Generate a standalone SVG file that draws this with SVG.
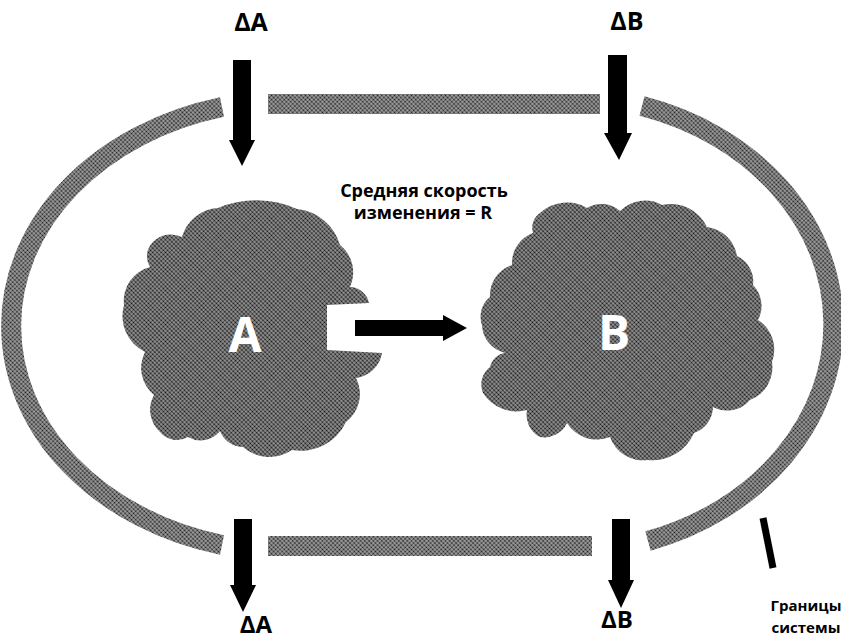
<svg xmlns="http://www.w3.org/2000/svg" width="841" height="639" viewBox="0 0 841 639">
<defs>
<pattern id="ht" width="3" height="3" patternUnits="userSpaceOnUse" patternTransform="rotate(45)"><rect width="3" height="3" fill="#9a9a9a"/><circle cx="1.5" cy="1.5" r="1.1" fill="#111"/></pattern>
<pattern id="hb" width="3" height="3" patternUnits="userSpaceOnUse" patternTransform="rotate(45)"><rect width="3" height="3" fill="#a4a4a4"/><circle cx="1.5" cy="1.5" r="1.05" fill="#1a1a1a"/></pattern>
</defs>
<style>
.blob{fill:url(#ht)}
.band{fill:none;stroke:url(#hb);stroke-width:20}
.bandr{fill:url(#hb)}
.arr{fill:#000}
.t{font-family:"Open Sans","Liberation Sans",sans-serif;font-weight:700;fill:#000;text-anchor:middle}
.big{font-family:"Open Sans","Liberation Sans",sans-serif;font-weight:700;fill:#fff;text-anchor:middle;font-size:48px}
</style>
<rect width="841" height="639" fill="#fff"/>
<g id="boundary">
<path class="band" d="M222,107 A280,226 0 0 0 222,545"/>
<path class="band" d="M642,106 A269,228 0 0 1 648,541"/>
<rect class="bandr" x="268" y="94" width="332" height="20"/>
<rect class="bandr" x="268" y="536" width="324" height="20"/>
<path d="M763,518 L773,568" stroke="#000" stroke-width="7" fill="none"/>
</g>
<g id="nodeA">
<path class="blob" d="M218,208 A100 100 0 0 1 297,209 A50 50 0 0 1 340,245 A35 35 0 0 1 350,287 A20 20 0 0 1 369,303 L327,305 L327,350 L382,353 A30 30 0 0 1 356,378 A35 35 0 0 1 346,422 A50 50 0 0 1 292,450 A40 40 0 0 1 243,447 A25 25 0 0 1 220,431 A25 25 0 0 1 188,437 A22 22 0 0 1 160,432 A30 30 0 0 1 154,395 A35 35 0 0 1 145,352 A40 40 0 0 1 124,305 A35 35 0 0 1 150,267 A20 20 0 0 1 153,242 A25 25 0 0 1 182,237 A40 40 0 0 1 218,208 Z"/>
<text class="big" x="245" y="352">A</text>
</g>
<g id="nodeB">
<path class="blob" d="M540,213 A40 40 0 0 1 587,208 A28 28 0 0 1 620,211 A35 35 0 0 1 662,205 A40 40 0 0 1 707,227 A35 35 0 0 1 737,256 A28 28 0 0 1 753,285 A30 30 0 0 1 758,320 A35 35 0 0 1 772,362 A35 35 0 0 1 750,400 A30 30 0 0 1 713,407 A28 28 0 0 1 694,433 A45 45 0 0 1 648,460 A35 35 0 0 1 610,437 A35 35 0 0 1 567,423 A25 25 0 0 1 540,437 A25 25 0 0 1 527,410 A40 40 0 0 1 483,393 A22 22 0 0 1 490,367 A18 18 0 0 1 505,353 A30 30 0 0 1 482,325 A25 25 0 0 1 490,297 A32 32 0 0 1 512,265 A32 32 0 0 1 533,233 A18 18 0 0 1 540,213 Z"/>
<text class="big" x="614" y="350">B</text>
</g>
<g id="connectors">
<path class="arr" d="M233,60 H251 V140 H255 L242,166 L229,140 H233 Z"/>
<path class="arr" d="M608,55 H627 V133 H632 L619,160 L604,133 H608 Z"/>
<path class="arr" d="M234,519 H252 V585 H256 L243,612 L230,585 H234 Z"/>
<path class="arr" d="M612,519 H630 V580 H634 L621,608 L608,580 H612 Z"/>
<path class="arr" d="M355,320 H443 V315 L467,328 L443,341 V336 H355 Z"/>
</g>
<g id="labels">
<text class="t" x="251" y="31" font-size="25">ΔA</text>
<text class="t" x="627" y="30" font-size="25">ΔB</text>
<text class="t" x="256" y="633" font-size="24">ΔA</text>
<text class="t" x="617" y="628" font-size="24">ΔB</text>
<text class="t" x="424" y="197" font-size="18">Средняя скорость</text>
<text class="t" x="423" y="219" font-size="18">изменения = R</text>
<text class="t" x="806" y="611" font-size="15">Границы</text>
<text class="t" x="806" y="633" font-size="15">системы</text>
</g>
</svg>
